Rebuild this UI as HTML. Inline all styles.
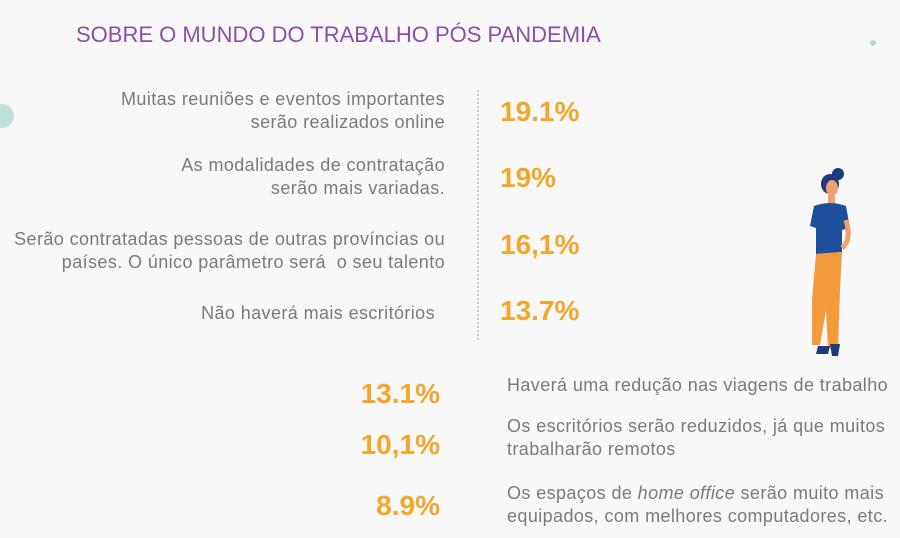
<!DOCTYPE html>
<html><head><meta charset="utf-8"><style>
body{margin:0;width:900px;height:538px;background:#f8f8f8;position:relative;overflow:hidden;font-family:"Liberation Sans",sans-serif}
.a{position:absolute;white-space:nowrap}
.t{color:#7a7a7a;font-size:18px;line-height:23px;letter-spacing:0.4px}
.r{text-align:right}
.p{color:#f4a62a;font-weight:bold;font-size:28px}
</style></head><body>
<div class="a" style="left:76px;top:22px;color:#8d4ea6;font-size:22px;letter-spacing:0px">SOBRE O MUNDO DO TRABALHO PÓS PANDEMIA</div>
<div class="a" style="left:870px;top:40px;width:6px;height:6px;border-radius:3px;background:#b5d8d2"></div>
<div class="a" style="left:-10px;top:104px;width:24px;height:24px;border-radius:12px;background:#bfe0da"></div>
<div class="a" style="left:477px;top:90px;height:250px;border-left:2px dotted #ccc"></div>

<div class="a t r" style="right:455px;top:88px">Muitas reuniões e eventos importantes<br>serão realizados online</div>
<div class="a p" style="left:500px;top:96px">19.1%</div>
<div class="a t r" style="right:455px;top:154px">As modalidades de contratação<br>serão mais variadas.</div>
<div class="a p" style="left:500px;top:162px">19%</div>
<div class="a t r" style="right:455px;top:228px">Serão contratadas pessoas de outras províncias ou<br>países. O único parâmetro será &nbsp;o seu talento</div>
<div class="a p" style="left:500px;top:229px">16,1%</div>
<div class="a t r" style="right:465px;top:302px">Não haverá mais escritórios</div>
<div class="a p" style="left:500px;top:295px">13.7%</div>

<div class="a p r" style="right:460px;top:378px">13.1%</div>
<div class="a t" style="left:507px;top:374px">Haverá uma redução nas viagens de trabalho</div>
<div class="a p r" style="right:460px;top:429px">10,1%</div>
<div class="a t" style="left:507px;top:415px">Os escritórios serão reduzidos, já que muitos<br>trabalharão remotos</div>
<div class="a p r" style="right:460px;top:490px">8.9%</div>
<div class="a t" style="left:507px;top:482px">Os espaços de <i>home office</i> serão muito mais<br>equipados, com melhores computadores, etc.</div>

<svg class="a" style="left:790px;top:160px" width="80" height="200" viewBox="0 0 80 200">
<circle cx="48" cy="14" r="6" fill="#1d3b7a"/>
<ellipse cx="40" cy="24" rx="9" ry="10" fill="#1d3b7a"/>
<ellipse cx="42" cy="28" rx="6" ry="8" fill="#f3a070"/>
<rect x="38" y="34" width="7" height="10" fill="#f3a070"/>
<path d="M24 46 Q40 40 56 46 L60 68 L52 70 L52 92 L26 94 L26 68 L20 66 Z" fill="#1f4f9a"/>
<path d="M56 60 Q62 80 52 88" stroke="#f3a070" stroke-width="5" fill="none"/>
<path d="M26 94 L52 92 L50 130 L48 188 L38 188 L36 150 L30 185 L22 185 L22 140 Z" fill="#f39a3a"/>
<path d="M28 186 L40 186 L38 194 L26 194 Z" fill="#1d3b7a"/>
<path d="M40 184 L50 184 L48 196 L42 196 Z" fill="#1d3b7a"/>
</svg>
</body></html>
